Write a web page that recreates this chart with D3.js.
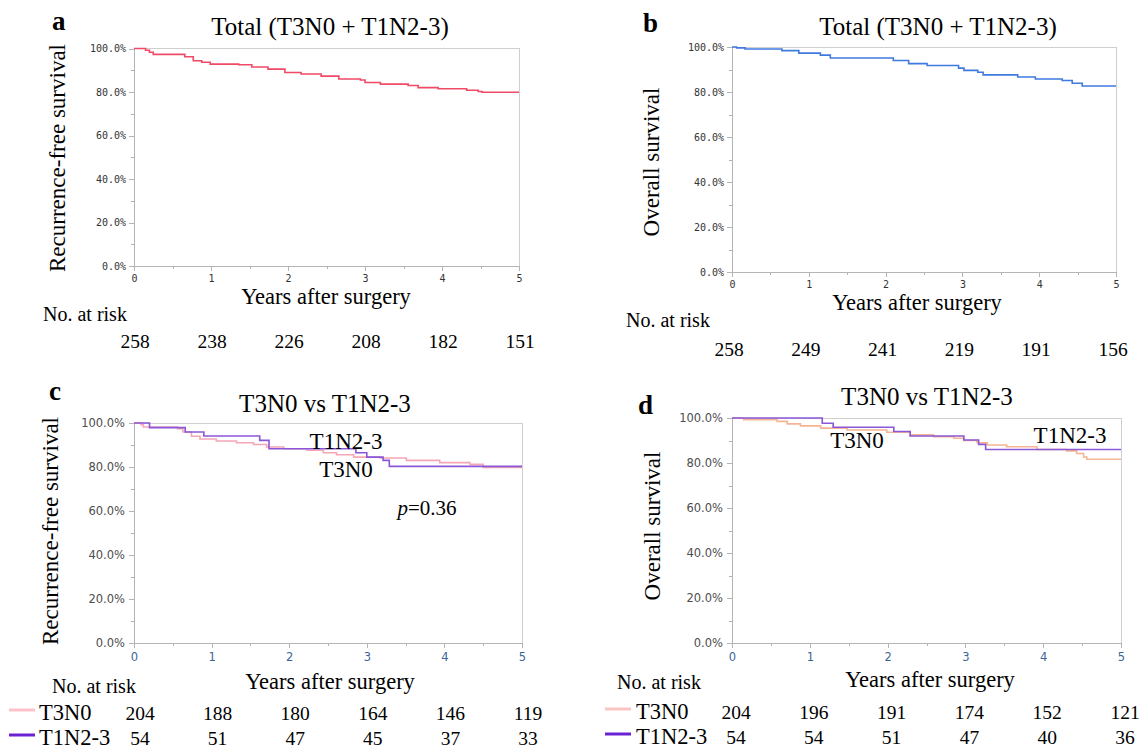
<!DOCTYPE html>
<meta charset="utf-8">
<style>
body { margin: 0; background: #fff; }
svg { display: block; }
text.serif { font-family: "Liberation Serif", "DejaVu Serif", serif; fill: #000; }
.axis path, .axis line { stroke: #b4b4b4; shape-rendering: crispEdges; }
.mono text { font-family: "DejaVu Sans Mono", monospace; font-size: 10px; fill: #333; }
.sans text { font-family: "DejaVu Sans", Verdana, sans-serif; font-size: 11.5px; fill: #4d4d4d; }
.sans.x text { fill: #3d6496; }
.curve { fill: none; stroke-width: 1.6px; }
</style>
<svg width="1140" height="750"></svg>
<script src="https://cdn.jsdelivr.net/npm/d3@7"></script>
<script>

// ---- data ----
let yearTicks = [0, 1, 2, 3, 4, 5];
let pctTicks = [0, 20, 40, 60, 80, 100];

// [years, survival %] step points
let rfsTotal = [[0,100],[0.15,99.2],[0.2,98.3],[0.25,97.3],[0.66,96.2],[0.77,94.4],[0.88,93.7],[0.99,92.8],
    [1.36,92.5],[1.53,91.5],[1.74,90.5],[1.96,89],[2.17,88.3],[2.43,87.3],[2.66,86],[2.94,85.5],[3.0,84.4],
    [3.2,83.6],[3.56,83],[3.69,82],[3.95,81.5],[4.32,80.8],[4.47,80.2],[4.52,79.9],[5,79.9]];
let osTotal = [[0,100],[0.06,99.6],[0.17,99.1],[0.65,98.4],[0.87,97.3],[1.15,96.4],[1.28,95.1],[2.1,94.0],
    [2.3,92.6],[2.54,91.8],[2.95,90.6],[3.02,89.6],[3.2,88.8],[3.27,87.6],[3.72,86.7],[3.95,85.8],[4.3,85.1],
    [4.43,83.9],[4.56,82.7],[5,82.7]];
let rfsT3N0 = [[0,100],[0.09,99.2],[0.12,98.2],[0.56,97.4],[0.63,95.9],[0.74,94],[0.85,92.7],[1.06,91.8],
    [1.32,91],[1.54,90.2],[1.71,89.1],[1.93,88.3],[2.23,87.6],[2.44,86.5],[2.61,85.6],[2.83,84.5],[3.17,84.1],
    [3.51,83],[3.94,82],[4.33,81.2],[4.5,79.8],[5,79.8]];
let rfsT1N2 = [[0,100],[0.2,97.9],[0.66,95.9],[0.9,94.1],[1.62,92.1],[1.74,88.3],[2.86,86.5],[3.0,84.5],
    [3.21,83],[3.29,80.3],[5,80.3]];
let osT3N0 = [[0,100],[0.15,99.2],[0.58,98.5],[0.71,97.4],[0.88,96.5],[1.14,95.5],[1.48,94.7],[1.99,93.7],
    [2.29,92.5],[2.59,91.7],[2.85,91],[2.98,90],[3.15,89],[3.28,88],[3.53,87.2],[3.92,86],[4.3,85.4],
    [4.43,84.2],[4.52,82.7],[4.56,81.7],[5,81.7]];
let osT1N2 = [[0,100],[1.16,97.7],[1.3,95.9],[2.08,94],[2.29,92],[2.98,90.2],[3.17,88.3],[3.26,86],[5,86]];

// numbers at risk at 0..5 years
let riskA = [258, 238, 226, 208, 182, 151];
let riskB = [258, 249, 241, 219, 191, 156];
let riskC_T3N0 = [204, 188, 180, 164, 146, 119];
let riskC_T1N2 = [54, 51, 47, 45, 37, 33];
let riskD_T3N0 = [204, 196, 191, 174, 152, 121];
let riskD_T1N2 = [54, 54, 51, 47, 40, 36];

let svg = d3.select("svg");

function drawPanel(p) {
    let x = d3.scaleLinear().domain([0, 5]).range([p.left, p.right]),
        y = d3.scaleLinear().domain([0, 100]).range([p.bottom, p.top]);
    let g = svg.append("g");

    // frame
    g.append("rect")
        .attr("x", p.left).attr("y", p.top)
        .attr("width", p.right - p.left).attr("height", p.bottom - p.top)
        .attr("fill", "none").attr("stroke", "#cfcfcf")
        .attr("shape-rendering", "crispEdges");

    let cls = "axis " + p.tickStyle;
    let fmt = d => d.toFixed(1) + "%";

    // minor ticks first
    g.append("g").attr("class", cls)
        .attr("transform", "translate(" + p.left + ",0)")
        .call(d3.axisLeft(y).tickValues([10, 30, 50, 70, 90]).tickSize(3).tickFormat(""));
    g.append("g").attr("class", cls)
        .attr("transform", "translate(0," + p.bottom + ")")
        .call(d3.axisBottom(x).tickValues([0.5, 1.5, 2.5, 3.5, 4.5]).tickSize(3).tickFormat(""));

    g.append("g").attr("class", cls)
        .attr("transform", "translate(" + p.left + ",0)")
        .call(d3.axisLeft(y).tickValues(pctTicks).tickSize(5).tickPadding(p.yPad).tickFormat(fmt));
    g.append("g").attr("class", cls + " x")
        .attr("transform", "translate(0," + p.bottom + ")")
        .call(d3.axisBottom(x).tickValues(yearTicks).tickSize(5).tickPadding(p.xPad).tickFormat(d3.format("d")));

    let line = d3.line()
        .curve(d3.curveStepAfter)
        .x(d => x(d[0]))
        .y(d => y(d[1]));

    p.series.forEach(s => {
        g.append("path")
            .attr("class", "curve")
            .attr("d", line(s.values))
            .attr("stroke", s.color);
    });

    // panel letter
    g.append("text").attr("class", "serif")
        .attr("x", p.letter[0]).attr("y", p.letter[1])
        .attr("font-size", 27).attr("font-weight", "bold")
        .text(p.id);

    // title
    g.append("text").attr("class", "serif")
        .attr("x", p.titlePos[0]).attr("y", p.titlePos[1])
        .attr("text-anchor", "middle").attr("font-size", 25)
        .text(p.title);

    // y label
    g.append("text").attr("class", "serif")
        .attr("transform", "translate(" + p.yLab[0] + "," + p.yLab[1] + ") rotate(-90)")
        .attr("text-anchor", "middle").attr("font-size", 23)
        .text(p.yTitle);

    // x label
    g.append("text").attr("class", "serif")
        .attr("x", p.xLab[0]).attr("y", p.xLab[1])
        .attr("text-anchor", "middle").attr("font-size", 22.5)
        .text("Years after surgery");

    g.append("text").attr("class", "serif")
        .attr("x", p.riskTitle[0]).attr("y", p.riskTitle[1])
        .attr("font-size", 20)
        .text("No. at risk");

    p.risk.forEach(r => {
        g.selectAll(null)
            .data(r.values)
            .enter().append("text")
            .attr("class", "serif")
            .attr("x", (d, i) => x(yearTicks[i]) + p.riskShift)
            .attr("y", r.y)
            .attr("text-anchor", "middle")
            .attr("font-size", 19.5)
            .text(d => d);
        if (r.label) {
            g.append("line")
                .attr("x1", p.legendX[0]).attr("x2", p.legendX[1])
                .attr("y1", r.y - 10).attr("y2", r.y - 10)
                .attr("stroke", r.legendColor).attr("stroke-width", 3);
            g.append("text").attr("class", "serif")
                .attr("x", p.legendX[1] + p.legendGap).attr("y", r.y)
                .attr("font-size", 22.5)
                .text(r.label);
        }
    });

    (p.notes || []).forEach(n => {
        let t = g.append("text").attr("class", "serif")
            .attr("x", n.x).attr("y", n.y)
            .attr("text-anchor", "middle").attr("font-size", n.size || 23);
        if (n.italic) {
            t.append("tspan").attr("font-style", "italic").text(n.italic);
        }
        t.append("tspan").text(n.text);
    });
}

drawPanel({
    id: "a", left: 134, right: 519, top: 48.5, bottom: 266,
    tickStyle: "mono", yPad: 3, xPad: 4,
    series: [{values: rfsTotal, color: "#ef4a66"}],
    letter: [52, 30], title: "Total (T3N0 + T1N2-3)", titlePos: [330, 35],
    yTitle: "Recurrence-free survival", yLab: [65, 158],
    xLab: [326, 304], riskTitle: [43, 321], riskShift: 1,
    risk: [{values: riskA, y: 348}]
});

drawPanel({
    id: "b", left: 732, right: 1116, top: 47, bottom: 272,
    tickStyle: "mono", yPad: 3, xPad: 4,
    series: [{values: osTotal, color: "#3f7ae0"}],
    letter: [643, 32], title: "Total (T3N0 + T1N2-3)", titlePos: [938, 35],
    yTitle: "Overall survival", yLab: [659, 162],
    xLab: [917, 310], riskTitle: [626, 327], riskShift: -3,
    risk: [{values: riskB, y: 356}]
});

drawPanel({
    id: "c", left: 134, right: 522, top: 423, bottom: 643,
    tickStyle: "sans", yPad: 4, xPad: 5,
    series: [{values: rfsT3N0, color: "#f6a7b6"}, {values: rfsT1N2, color: "#8a57d8"}],
    letter: [49, 400], title: "T3N0 vs T1N2-3", titlePos: [325, 412],
    yTitle: "Recurrence-free survival", yLab: [58, 531],
    xLab: [330, 689], riskTitle: [52, 693], riskShift: 6,
    legendX: [9, 35], legendGap: 4,
    risk: [
        {values: riskC_T3N0, y: 720, label: "T3N0", legendColor: "#fbc2cb"},
        {values: riskC_T1N2, y: 745, label: "T1N2-3", legendColor: "#6a22d2"}
    ],
    notes: [
        {text: "T1N2-3", x: 346, y: 449},
        {text: "T3N0", x: 346, y: 477},
        {italic: "p", text: "=0.36", x: 427, y: 515, size: 21}
    ]
});

drawPanel({
    id: "d", left: 732, right: 1121, top: 418, bottom: 643,
    tickStyle: "sans", yPad: 4, xPad: 5,
    series: [{values: osT3N0, color: "#f5b592"}, {values: osT1N2, color: "#8a57d8"}],
    letter: [638, 414], title: "T3N0 vs T1N2-3", titlePos: [927, 405],
    yTitle: "Overall survival", yLab: [660, 526],
    xLab: [930, 687], riskTitle: [617, 689], riskShift: 4,
    legendX: [605, 631], legendGap: 5,
    risk: [
        {values: riskD_T3N0, y: 719, label: "T3N0", legendColor: "#fbc5c5"},
        {values: riskD_T1N2, y: 744, label: "T1N2-3", legendColor: "#6a22d2"}
    ],
    notes: [
        {text: "T3N0", x: 857, y: 448},
        {text: "T1N2-3", x: 1070, y: 443}
    ]
});

</script>
